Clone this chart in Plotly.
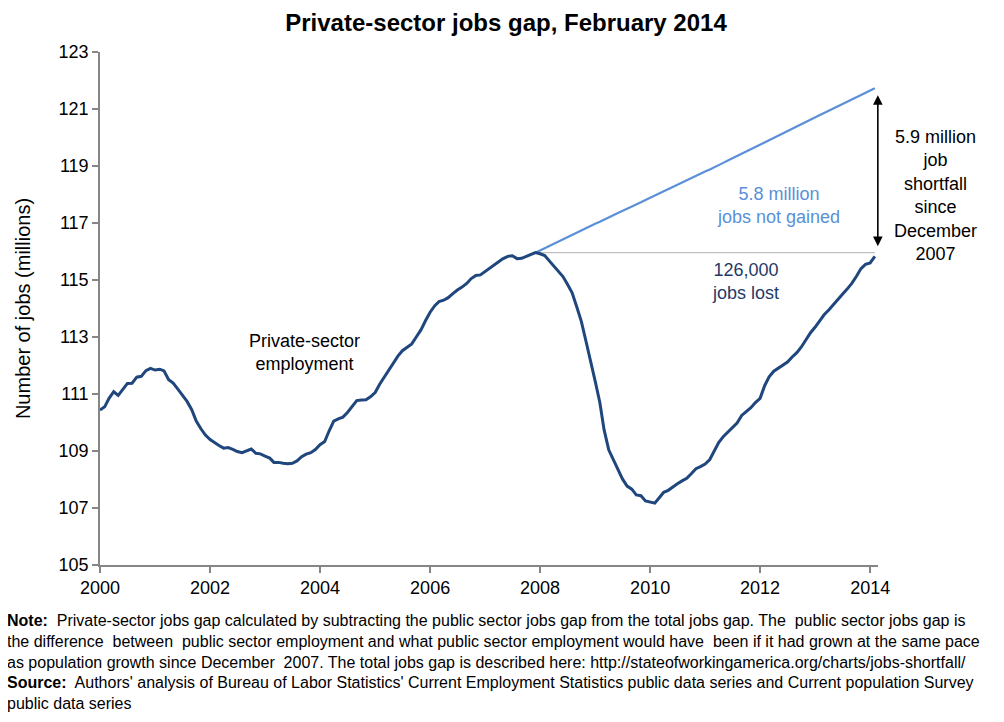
import pandas as pd
import plotly.graph_objects as go

# Private-sector employment, millions, monthly Jan 2000 - Feb 2014
private_emp = [
    110.44, 110.55, 110.85, 111.08, 110.95, 111.15, 111.37, 111.38, 111.59, 111.62, 111.82, 111.90,  # 2000
    111.84, 111.87, 111.81, 111.50, 111.38, 111.17, 110.96, 110.74, 110.45, 110.05, 109.78, 109.56,  # 2001
    109.40, 109.28, 109.19, 109.10, 109.12, 109.06, 108.98, 108.94, 109.00, 109.07, 108.92, 108.90,  # 2002
    108.82, 108.75, 108.60, 108.60, 108.57, 108.55, 108.57, 108.65, 108.80, 108.89, 108.94, 109.05,  # 2003
    109.22, 109.33, 109.70, 110.05, 110.13, 110.19, 110.35, 110.58, 110.77, 110.79, 110.80, 110.90,  # 2004
    111.05, 111.35, 111.58, 111.80, 112.05, 112.33, 112.52, 112.65, 112.76, 113.00, 113.25, 113.57,  # 2005
    113.87, 114.10, 114.24, 114.29, 114.38, 114.52, 114.65, 114.75, 114.88, 115.05, 115.16, 115.18,  # 2006
    115.30, 115.41, 115.55, 115.64, 115.75, 115.83, 115.85, 115.75, 115.76, 115.83, 115.90, 115.96,  # 2007
    115.92, 115.86, 115.68, 115.50, 115.30, 115.12, 114.85, 114.55, 114.05, 113.55, 112.85, 112.20,  # 2008
    111.45, 110.70, 109.75, 109.04, 108.70, 108.33, 108.02, 107.77, 107.66, 107.46, 107.43, 107.25,  # 2009
    107.20, 107.17, 107.35, 107.55, 107.62, 107.75, 107.85, 107.95, 108.04, 108.20, 108.38, 108.45,  # 2010
    108.54, 108.70, 109.00, 109.30, 109.50, 109.65, 109.80, 109.98, 110.25, 110.38, 110.52, 110.70,  # 2011
    110.85, 111.30, 111.60, 111.80, 111.90, 112.00, 112.12, 112.30, 112.45, 112.65, 112.90, 113.15,  # 2012
    113.35, 113.57, 113.78, 113.95, 114.12, 114.30, 114.50, 114.68, 114.88, 115.12, 115.40, 115.55,  # 2013
    115.60, 115.83,  # 2014
]

# Private-sector employment had it grown with population, Dec 2007 - Feb 2014
trend_emp = [
    115.96,
    116.04, 116.12, 116.20, 116.27, 116.35, 116.43, 116.50, 116.58, 116.66, 116.73, 116.81, 116.89,  # 2008
    116.97, 117.04, 117.12, 117.20, 117.27, 117.35, 117.43, 117.50, 117.58, 117.66, 117.73, 117.81,  # 2009
    117.89, 117.96, 118.04, 118.12, 118.19, 118.27, 118.35, 118.42, 118.50, 118.58, 118.65, 118.73,  # 2010
    118.81, 118.88, 118.96, 119.04, 119.11, 119.19, 119.27, 119.34, 119.42, 119.50, 119.57, 119.65,  # 2011
    119.76, 119.84, 119.92, 120.00, 120.08, 120.16, 120.24, 120.32, 120.40, 120.48, 120.56, 120.63,  # 2012
    120.71, 120.79, 120.86, 120.94, 121.01, 121.09, 121.17, 121.24, 121.32, 121.40, 121.47, 121.55,  # 2013
    121.63, 121.73,  # 2014
]

dates = pd.date_range("2000-01-01", periods=len(private_emp), freq="MS")
peak_idx = dates.get_loc(pd.Timestamp("2007-12-01"))
trend_dates = dates[peak_idx:]

tick_years = ["2000", "2002", "2004", "2006", "2008", "2010", "2012", "2014"]
y_ticks = [105, 107, 109, 111, 113, 115, 117, 119, 121, 123]

DARK = "#1f467d"
LIGHT = "#5a90d8"
FONT = "Liberation Sans, Arial, sans-serif"
NARROW = "Liberation Sans Narrow, Arial Narrow, Liberation Sans, Arial, sans-serif"

fig = go.Figure()

# Gray reference line at Dec 2007 level
fig.add_trace(go.Scatter(
    x=[trend_dates[0], trend_dates[-1]],
    y=[private_emp[peak_idx], private_emp[peak_idx]],
    mode="lines", line=dict(color="#c0c0c0", width=1.2),
    hoverinfo="skip", showlegend=False,
))
fig.add_trace(go.Scatter(
    x=trend_dates, y=trend_emp, mode="lines",
    line=dict(color=LIGHT, width=2.2), showlegend=False,
))
fig.add_trace(go.Scatter(
    x=dates, y=private_emp, mode="lines",
    line=dict(color=DARK, width=3), showlegend=False,
))

fig.update_layout(
    width=996, height=714,
    margin=dict(l=92, r=126, t=44, b=157),
    paper_bgcolor="white", plot_bgcolor="white",
    font=dict(family=FONT, size=18, color="black"),
    title=dict(
        text="<b>Private-sector jobs gap, February 2014</b>",
        x=0.5, xanchor="center", y=0.980, yanchor="middle",
        font=dict(family=NARROW, size=24, color="black"),
    ),
    xaxis=dict(
        range=[pd.Timestamp("2000-01-01"), pd.Timestamp("2014-02-22")],
        tickmode="array",
        tickvals=[pd.Timestamp(y + "-01-01") for y in tick_years],
        ticktext=tick_years,
        showgrid=False, zeroline=False,
        showline=True, linecolor="#868686", linewidth=1.5,
        ticks="outside", ticklen=6, tickcolor="#868686", tickwidth=1.5,
        tickfont=dict(family=FONT, size=18, color="black"),
    ),
    yaxis=dict(
        range=[105, 123],
        tickmode="array", tickvals=y_ticks, ticktext=[str(v) for v in y_ticks],
        showgrid=False, zeroline=False,
        showline=True, linecolor="#868686", linewidth=1.5,
        ticks="outside", ticklen=6, tickcolor="#868686", tickwidth=1.5,
        tickfont=dict(family=FONT, size=18, color="black"),
        title=dict(text="Number of jobs (millions)", standoff=23,
                   font=dict(family=FONT, size=20, color="black")),
    ),
)

# Double-headed arrow showing the shortfall
fig.add_annotation(
    x=trend_dates[-1], y=trend_emp[-1],
    ax=trend_dates[-1], ay=private_emp[peak_idx],
    xref="x", yref="y", axref="x", ayref="y",
    xshift=3, text="", showarrow=True,
    arrowhead=2, arrowsize=1.2, arrowwidth=1.6, arrowcolor="black",
    arrowside="end+start", standoff=7, startstandoff=5,
)

fig.add_annotation(
    x=1.0, xref="paper", xshift=57, y=117.95, yref="y",
    text="5.9 million<br>job<br>shortfall<br>since<br>December<br>2007",
    showarrow=False, font=dict(family=FONT, size=18, color="black"),
    align="center", xanchor="center", yanchor="middle",
)
fig.add_annotation(
    x=pd.Timestamp("2003-09-20"), y=112.45, xref="x", yref="y",
    text="Private-sector<br>employment", showarrow=False,
    font=dict(family=FONT, size=18, color="black"), align="center",
)
fig.add_annotation(
    x=pd.Timestamp("2012-05-05"), y=117.63, xref="x", yref="y",
    text="5.8 million<br>jobs not gained", showarrow=False,
    font=dict(family=FONT, size=18, color=LIGHT), align="center",
)
fig.add_annotation(
    x=pd.Timestamp("2011-09-24"), y=114.93, xref="x", yref="y",
    text="126,000<br>jobs lost", showarrow=False,
    font=dict(family=FONT, size=18, color="#1f3a66"), align="center",
)

note = ("<b>Note:</b>  Private-sector jobs gap calculated by subtracting the public sector jobs gap from the total jobs gap. "
        "The  public sector jobs gap is<br>"
        "the difference  between  public sector employment and what public sector employment would have  been if it had grown at the same pace<br>"
        "as population growth since December  2007. The total jobs gap is described here: http://stateofworkingamerica.org/charts/jobs-shortfall/<br>"
        "<b>Source:</b>  Authors' analysis of Bureau of Labor Statistics' Current Employment Statistics public data series and Current population Survey<br>"
        "public data series")
fig.add_annotation(
    x=0, xref="paper", xshift=-95, xanchor="left",
    y=0, yref="paper", yshift=-45, yanchor="top",
    text=note, showarrow=False, align="left",
    font=dict(family=NARROW, size=16, color="black"),
)

fig.write_html("out.html")
